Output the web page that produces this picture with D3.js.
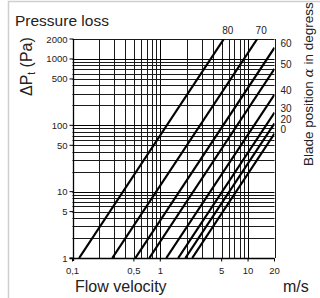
<!DOCTYPE html>
<html>
<head>
<meta charset="utf-8">
<script src="https://cdn.jsdelivr.net/npm/d3@7"></script>
<style>
  body { margin: 0; background: #fff; }
  text { font-family: "Liberation Sans", Arial, sans-serif; fill: #222; }
</style>
</head>
<body>
<div id="chart"></div>
<script>
// blade position curves (two points per straight line)
const bladeAngles = [80, 70, 60, 50, 40, 30, 20, 0];
const startVelocity = [0.119, 0.284, 0.52, 0.75, 1.17, 1.6, 1.93, 2.31]; // at 1 Pa
const endVelocity = [5.3, 12.7, 20, 20, 20, 20, 20, 20];
const endPressure = [2000, 2000, 1480, 710, 290, 156, 107, 75];

const yTickValues = [1, 5, 10, 50, 100, 500, 1000, 2000];
const yTickLabels = ["1", "5", "10", "50", "100", "500", "1000", "2000"];
const xTickValues = [0.1, 0.5, 1, 5, 10, 20];
const xTickLabels = ["0,1", "0,5", "1", "5", "10", "20"];

const xGridValues = [0.1, 0.2, 0.3, 0.4, 0.5, 0.6, 0.7, 0.8, 0.9, 1, 2, 3, 4, 5, 6, 7, 8, 9, 10, 20];
const yGridValues = [1, 2, 3, 4, 5, 6, 7, 8, 9, 10, 20, 30, 40, 50, 60, 70, 80, 90,
  100, 200, 300, 400, 500, 600, 700, 800, 900, 1000, 2000];

const width = 320, height = 298;

const svg = d3.select("#chart").append("svg")
  .attr("width", width)
  .attr("height", height);

// light frame of the scan
svg.append("path")
  .attr("d", "M8.5,298 V1.5 H320")
  .attr("fill", "none")
  .attr("stroke", "#cfcfcf")
  .attr("stroke-width", 1.5);

const x = d3.scaleLog().domain([0.1, 20]).range([72.5, 274.5]);
const y = d3.scaleLog().domain([1, 2000]).range([258, 39]);

const major = (v) => Math.abs(Math.log10(v) - Math.round(Math.log10(v))) < 1e-9;

// grid
svg.append("g")
  .selectAll("line")
  .data(xGridValues)
  .enter()
  .append("line")
  .attr("x1", (d) => Math.round(x(d)) + 0.5)
  .attr("x2", (d) => Math.round(x(d)) + 0.5)
  .attr("y1", y(2000))
  .attr("y2", y(1))
  .attr("stroke", (d) => (major(d) ? "#000" : "#1a1a1a"))
  .attr("stroke-width", 1);

svg.append("g")
  .selectAll("line")
  .data(yGridValues)
  .enter()
  .append("line")
  .attr("x1", x(0.1))
  .attr("x2", x(20))
  .attr("y1", (d) => Math.round(y(d)) + 0.5)
  .attr("y2", (d) => Math.round(y(d)) + 0.5)
  .attr("stroke", (d) => (major(d) ? "#000" : "#1a1a1a"))
  .attr("stroke-width", 1);

// axes
const yAxis = svg.append("g").attr("transform", "translate(" + (Math.round(x(0.1)) + 0.5) + ",0)");
yAxis.append("line").attr("y1", y(2000)).attr("y2", y(1) + 3).attr("stroke", "#000").attr("stroke-width", 1.3);
yAxis.selectAll(".tick")
  .data(yTickValues)
  .enter()
  .append("line")
  .attr("x1", -4).attr("x2", 0)
  .attr("y1", (d) => y(d)).attr("y2", (d) => y(d))
  .attr("stroke", "#000");
yAxis.selectAll("text")
  .data(yTickValues)
  .enter()
  .append("text")
  .attr("x", -6)
  .attr("y", (d) => y(d) + 3.5)
  .attr("text-anchor", "end")
  .attr("font-size", 9.5)
  .text((d, i) => yTickLabels[i]);

const xAxis = svg.append("g").attr("transform", "translate(0," + (Math.round(y(1)) + 0.5) + ")");
xAxis.append("line").attr("x1", x(0.1) - 3).attr("x2", x(20)).attr("stroke", "#000").attr("stroke-width", 1.3);
xAxis.selectAll(".tick")
  .data(xTickValues)
  .enter()
  .append("line")
  .attr("x1", (d) => x(d)).attr("x2", (d) => x(d))
  .attr("y1", 0).attr("y2", 3)
  .attr("stroke", "#000");
xAxis.selectAll("text")
  .data(xTickValues)
  .enter()
  .append("text")
  .attr("x", (d) => x(d))
  .attr("y", 15)
  .attr("text-anchor", "middle")
  .attr("font-size", 9.5)
  .text((d, i) => xTickLabels[i]);

// curves
svg.append("defs").append("clipPath").attr("id", "plot")
  .append("rect")
  .attr("x", x(0.1)).attr("y", y(2000))
  .attr("width", x(20) - x(0.1)).attr("height", y(1) - y(2000));

const curves = bladeAngles.map((a, i) => ({
  angle: a,
  pts: [[startVelocity[i], 1], [endVelocity[i], endPressure[i]]]
}));

svg.append("g")
  .attr("clip-path", "url(#plot)")
  .selectAll("path")
  .data(curves)
  .enter()
  .append("path")
  .attr("d", (d) => d3.line().x((p) => x(p[0])).y((p) => y(p[1]))(d.pts))
  .attr("fill", "none")
  .attr("stroke", "#000")
  .attr("stroke-width", 2.2);

// curve labels
svg.append("g")
  .selectAll("text")
  .data(curves)
  .enter()
  .append("text")
  .attr("x", (d) => (d.pts[1][1] >= 2000 ? x(d.pts[1][0]) + 4 : x(20) + 6))
  .attr("y", (d) => (d.pts[1][1] >= 2000 ? 34 : y(d.pts[1][1]) - 0.5))
  .attr("text-anchor", (d) => (d.pts[1][1] >= 2000 ? "middle" : "start"))
  .attr("font-size", 10)
  .text((d) => d.angle);

// titles
svg.append("text").attr("x", 15).attr("y", 26).attr("font-size", 15.5).text("Pressure loss");
svg.append("text").attr("x", 75).attr("y", 292).attr("font-size", 16).text("Flow velocity");
svg.append("text").attr("x", 283).attr("y", 292).attr("font-size", 16).text("m/s");

const yTitle = svg.append("text")
  .attr("transform", "translate(32,96) rotate(-90)")
  .attr("font-size", 16);
yTitle.append("tspan").text("ΔP");
yTitle.append("tspan").attr("font-size", 10).attr("dy", 3).text("t");
yTitle.append("tspan").attr("dy", -3).text(" (Pa)");

const rTitle = svg.append("text")
  .attr("transform", "translate(313,166) rotate(-90)")
  .attr("font-size", 13.5);
rTitle.append("tspan").text("Blade position ");
rTitle.append("tspan").attr("font-family", "DejaVu Serif").attr("font-style", "italic").text("α");
rTitle.append("tspan").text(" in degress");
</script>
</body>
</html>
